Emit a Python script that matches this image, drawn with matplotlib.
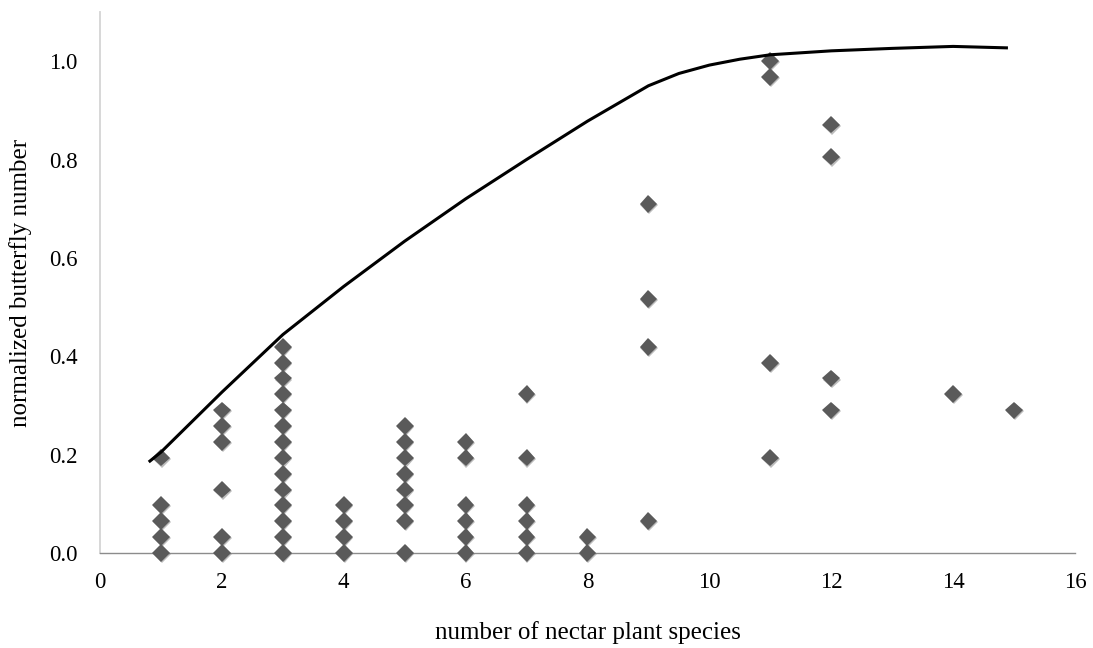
import matplotlib
matplotlib.use("Agg")
import matplotlib.pyplot as plt
import matplotlib.patheffects as pe

# Scatter data: number of nectar plant species vs normalized butterfly number
species = (
    [1] * 5 + [2] * 6 + [3] * 14 + [4] * 4 + [5] * 8 + [6] * 6 + [7] * 6
    + [8] * 2 + [9] * 4 + [11] * 4 + [12] * 4 + [14] + [15]
)
butterflies = [
    0.194, 0.097, 0.065, 0.032, 0.0,
    0.290, 0.258, 0.226, 0.129, 0.032, 0.0,
    0.419, 0.387, 0.355, 0.323, 0.290, 0.258, 0.226, 0.194, 0.161, 0.129, 0.097, 0.065, 0.032, 0.0,
    0.097, 0.065, 0.032, 0.0,
    0.258, 0.226, 0.194, 0.161, 0.129, 0.097, 0.065, 0.0,
    0.226, 0.194, 0.097, 0.065, 0.032, 0.0,
    0.323, 0.194, 0.097, 0.065, 0.032, 0.0,
    0.032, 0.0,
    0.710, 0.516, 0.419, 0.065,
    1.000, 0.968, 0.387, 0.194,
    0.871, 0.806, 0.355, 0.290,
    0.323,
    0.290,
]

# Upper boundary curve
curve_x = [0.8, 1, 2, 3, 4, 5, 6, 7, 8, 9, 9.5, 10, 10.5, 11, 12, 13, 14, 14.9]
curve_y = [0.185, 0.205, 0.327, 0.444, 0.542, 0.634, 0.720, 0.800, 0.878, 0.950,
           0.975, 0.992, 1.004, 1.013, 1.021, 1.026, 1.030, 1.027]

x_ticks = [0, 2, 4, 6, 8, 10, 12, 14, 16]
y_ticks = [0.0, 0.2, 0.4, 0.6, 0.8, 1.0]

plt.rcParams["font.family"] = ["Liberation Serif", "DejaVu Serif"]

fig = plt.figure(figsize=(10.93, 6.48), dpi=100)
ax = fig.add_axes([0.0915, 0.1466, 0.892, 0.8349])

shadow = [pe.SimplePatchShadow(offset=(0.6, -0.8), shadow_rgbFace="#7a7a7a", alpha=0.5),
          pe.Normal()]
ax.plot(species, butterflies, linestyle="none", marker="D", markersize=9,
        color="#5a5a5a", markeredgewidth=0, path_effects=shadow, zorder=3, clip_on=False)
ax.plot(curve_x, curve_y, color="black", linewidth=2.2, zorder=4,
        solid_capstyle="butt")

ax.set_xlim(0, 16)
ax.set_ylim(0, 1.1)
ax.set_xticks(x_ticks)
ax.set_yticks(y_ticks)
ax.set_yticklabels([f"{v:.1f}" for v in y_ticks])
ax.tick_params(axis="both", length=0, labelsize=16.5)
ax.tick_params(axis="x", pad=14)
ax.tick_params(axis="y", pad=16)

for side in ["top", "right"]:
    ax.spines[side].set_visible(False)
ax.spines["left"].set_color("#d4d4d4")
ax.spines["left"].set_linewidth(1.3)
ax.spines["bottom"].set_color("#8c8c8c")
ax.spines["bottom"].set_linewidth(1.0)

ax.set_xlabel("number of nectar plant species", fontsize=18, labelpad=20)
ax.set_ylabel("normalized butterfly number", fontsize=18, labelpad=12)

fig.savefig("out.png", dpi=100)
